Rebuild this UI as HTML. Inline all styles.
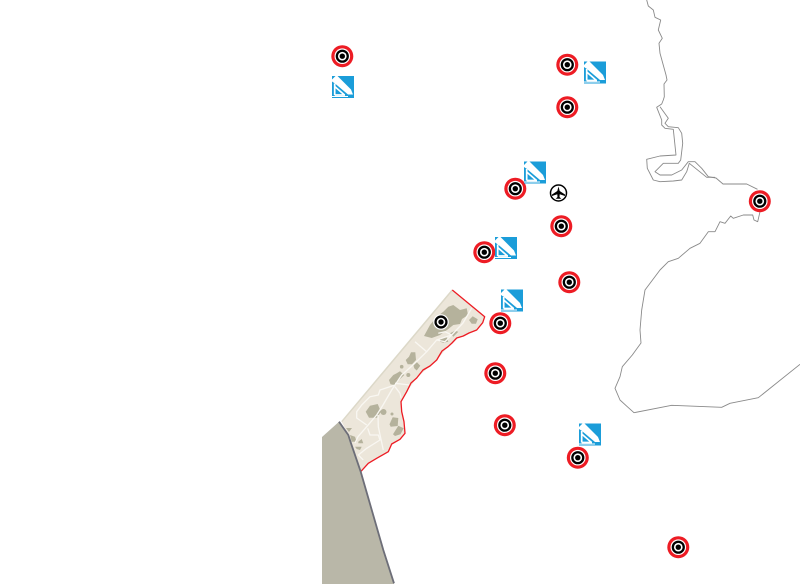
<!DOCTYPE html>
<html><head><meta charset="utf-8"><style>html,body{margin:0;padding:0;background:#fff}svg{display:block}</style></head><body>
<svg width="800" height="584" viewBox="0 0 800 584" xmlns="http://www.w3.org/2000/svg">
<defs>
<g id="t"><circle r="11" fill="#ed1c24"/><circle r="7.800" fill="#fff"/><circle r="6.600" fill="#000"/><circle r="4.300" fill="#fff"/><circle r="2.700" fill="#000"/></g>
<g id="m"><rect x="-11" y="-11" width="22" height="22" fill="#1b9dd9"/>
<path d="M-11,-7.500 L-7.500,-11 L-5.500,-11 L8,2.500 L10,7.500 L5,7.500 L-8,-3.500 L-11,-5.500Z" fill="#fff"/>
<path d="M-8.300,-3.500 L-8.300,8 M-8.300,-0.500 L1.500,8 M-8.300,8 L2,8" fill="none" stroke="#fff" stroke-width="1.700"/>
<path d="M-11,9 L5,9 L5,10 L-11,10Z" fill="#fff"/></g>
</defs>
<path d="M339,421.700 L322,437 L322,584 L394,584 L383.300,550 L360.700,471.700 L351,443.300 L348.300,435Z" fill="#b9b7a8"/>
<path d="M452.300,290 L484.700,316.700 L482.700,322.700 L476.700,330 L463.300,336 L456.700,338 L448,346.700 L436.700,360 L430,366 L416.700,378 L406.700,391.700 L401,401.700 L401.700,411.700 L404,421.700 L405,433.300 L400,439.300 L391.700,444 L388.300,451.700 L376.700,458.300 L368.300,463.300 L360.700,471.700 L351,443.300 L348.300,435 L341.700,421.700Z" fill="#ece6da"/>
<path d="M341.700,421.700 L452.300,290" fill="none" stroke="#dcd8c8" stroke-width="1.500"/>
<g fill="#b5b29c">
<path d="M424,336 L430,325 L436.700,316.700 L443.300,311.700 L448.300,306.700 L453.300,305 L460,310 L466.700,308.300 L468,315 L462,319 L460,324 L453.300,325 L448.300,329 L440,335 L431.700,338Z"/>
<path d="M469,320 L472.700,316.300 L477.700,319.300 L476,323.700 L471.700,323.700Z"/>
<path d="M440,338.300 L446.700,337.300 L448.300,341.700 L443.300,342.700 L440,341.700Z"/>
<path d="M450,333.300 L455,330.700 L458.300,331.700 L453.300,336.700Z"/>
<path d="M405.700,360 L409,356.700 L411,352.300 L415.300,352.300 L416,360 L412,364.300 L407.700,364.300Z"/>
<path d="M413.300,365 L416.700,362 L420.300,365.700 L416.700,370.500 L414.300,368.300Z"/>
<path d="M389,380 L393.300,375 L396.700,373.300 L400,371.300 L404.300,375 L399,380 L395.500,385.300 L390.500,384.300Z"/>
<path d="M365.700,411.700 L370,405.700 L377.700,404 L381,411.700 L377,417.700 L369,417.700Z"/>
<path d="M389.500,424.300 L392.700,417.300 L398.300,418 L397.700,426 L390.700,426.700Z"/>
<path d="M393,434.300 L398.300,425.700 L403.700,428.300 L400.500,434.300 L395,436Z"/>
<path d="M346,428 L352,428 L349,432Z"/>
<path d="M350,435 L355,436.700 L356.700,441.700 L351.700,441.700Z"/>
<path d="M358.300,441.700 L361.700,439 L363.300,443.300 L358.300,443.300Z"/>
<path d="M355,446.700 L361.700,446.700 L360,450 L356.700,449Z"/>
<circle cx="383.500" cy="412" r="3"/><circle cx="401.700" cy="366.700" r="1.800"/><circle cx="408.300" cy="375" r="2"/><circle cx="392" cy="414" r="1.500"/>
</g>
<g fill="none" stroke="#f9f7f2" stroke-width="1.300" stroke-linejoin="round">
<path d="M471.700,308 L463,323 L451.700,335 L436.700,340 L426.700,351.700 L413,365 L401.700,375 L391.700,390 L383,405 L376.700,415 L366.700,426.700 L358,436.700 L355,443"/>
<path d="M395,385 L380,390 L378.300,395 L370,396.700 L361.700,405 L356.700,411.700 L356.700,418 L366.700,425"/>
<path d="M395,386.700 L400,393.300 L401,398 M395,383.300 L410,385"/>
<path d="M415,341.700 L426.700,351.700"/>
<path d="M438.300,333.300 L445,331.700 L451.700,335 L445,341.700 L436.700,340"/>
<path d="M378,415 L378.300,426.700 L383.300,450"/>
<path d="M367.700,428.300 L370,435 L378.300,435 L380,440 L366.700,448.300 L358.300,455 L363.300,460"/>
</g>
<path d="M452.300,290 L484.700,316.700 L482.700,322.700 L476.700,330 L469,333 L463.300,336 L456.700,338 L452,343 L448,346.700 L442,351 L436.700,360 L430,366 L423,370 L416.700,378 L411,383 L406.700,391.700 L401,401.700 L401.700,411.700 L404,421.700 L405,433.300 L400,439.300 L391.700,444 L388.300,451.700 L376.700,458.300 L368.300,463.300 L360.700,471.700" fill="none" stroke="#ed1c24" stroke-width="1.300" stroke-linejoin="round"/>
<path d="M339,421.700 L348.300,435 L351,443.300 L360.700,471.700 L383.300,550 L394,583.300" fill="none" stroke="#6d6e78" stroke-width="1.800"/>
<g fill="none" stroke="#8a8a8a" stroke-width="0.900" stroke-linejoin="round">
<path d="M646.700,0 L648.300,6 L653.300,10 L655,17.300 L660.700,20 L658.300,30 L662.300,38.300 L659,43.300 L660,53.300 L666,75 L667,80 L664,84 L664.300,96.700 L663.300,100 L661.700,104 L656.700,107.300 L661.700,120 L661.700,125 L665,128.300 L673.300,129.300 L676,155 L660,156 L646.700,159.300 L647.300,168.300 L653.300,180 L660,181.700 L673.300,181 L681.700,180 L686.700,171.700 L689.300,163.300 L706.700,177.300 L715,177.300"/>
<path d="M660,106.700 L668.300,118.300 L665,123.300 L668.300,126.700 L678.300,127.700 L681.700,133.300 L682.700,143.300 L680.700,160 L678.300,163.300 L663.300,163.300 L655,171.700 L660,175 L671.700,175 L681.700,170 L688.300,161.700 L695,161.700 L701.700,168.300 L708.300,176.700 L716,178 L723,184 L746.700,184 L757.500,189.300"/>
<path d="M760,211.700 L757.700,221.700 L754,220 L752.700,215 L743.300,215 L733.300,218.300 L730.700,216 L725,223.300 L720,221.700 L715,231.700 L708.300,231.700 L700,243.300 L690,248.300 L678.300,258.300 L668.300,261.700 L660,270 L645,290 L641.700,310 L640,330 L641,343 L632.300,355 L622.300,366.700 L620,376.700 L615,388.300 L620,400 L627.300,406.700 L634,412.700 L671.700,405.300 L721.700,407.300 L730,403.300 L758.300,397.700 L800,364.300"/>
</g>
<g transform="translate(0.300,0.200)"><use href="#t" x="342" y="56"/><use href="#t" x="567" y="64.500"/><use href="#t" x="567" y="107"/><use href="#t" x="515" y="188.500"/><use href="#t" x="561" y="226"/><use href="#t" x="484" y="252"/><use href="#t" x="569" y="282"/><use href="#t" x="500" y="323"/><use href="#t" x="495" y="373"/><use href="#t" x="504.500" y="425"/><use href="#t" x="577.500" y="457.500"/><use href="#t" x="678" y="547"/><use href="#t" x="759.500" y="201"/></g>
<g transform="translate(441,322)"><circle r="7.800" fill="#fff"/><circle r="6.600" fill="#000"/><circle r="4.300" fill="#fff"/><circle r="2.700" fill="#000"/></g>
<use href="#m" x="343" y="87"/><use href="#m" x="595" y="72.500"/><use href="#m" x="535" y="172.500"/><use href="#m" x="506" y="248"/><use href="#m" x="512" y="300.500"/><use href="#m" x="590" y="434.500"/>
<g transform="translate(558.500,193)"><circle r="8" fill="#fff" stroke="#000" stroke-width="1.500"/><path d="M0,-6.500 L1.200,-2 L6.500,1.500 L6.500,3 L1.200,1.300 L1,4 L2.800,5.800 L-2.800,5.800 L-1,4 L-1.200,1.300 L-6.500,3 L-6.500,1.500 L-1.200,-2Z" fill="#000"/></g>
</svg>
</body></html>
